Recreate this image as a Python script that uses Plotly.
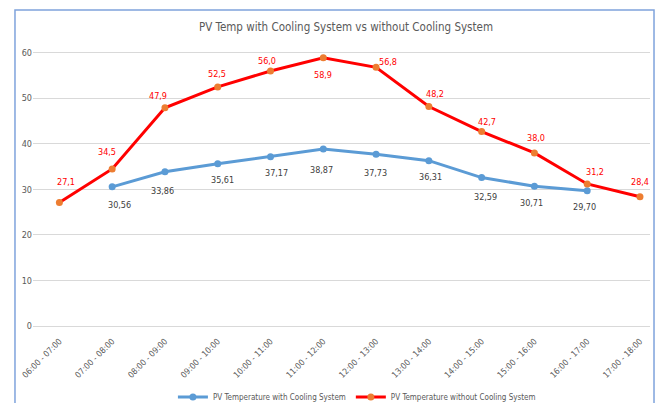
import plotly.graph_objects as go

categories = ["06:00 - 07:00", "07:00 - 08:00", "08:00 - 09:00", "09:00 - 10:00",
              "10:00 - 11:00", "11:00 - 12:00", "12:00 - 13:00", "13:00 - 14:00",
              "14:00 - 15:00", "15:00 - 16:00", "16:00 - 17:00", "17:00 - 18:00"]
with_cooling = [None, 30.56, 33.86, 35.61, 37.17, 38.87, 37.73, 36.31, 32.59, 30.71, 29.70, None]
without_cooling = [27.1, 34.5, 47.9, 52.5, 56.0, 58.9, 56.8, 48.2, 42.7, 38.0, 31.2, 28.4]

# label offsets in pixels (style only)
blue_label_shift = [None, (7, -18), (-2, -19), (5, -16), (6, -16), (-2, -21),
                    (-1, -19), (2, -16), (4, -19), (-3, -17), (-3, -16), None]
red_label_shift = [(7, 21), (-5, 17), (-7, 12), (-1, 13), (-4, 10), (0, -17),
                   (12, 5), (6, 13), (5, 10), (2, 15), (8, 12), (0, 15)]

FONT = "DejaVu Sans Condensed, Roboto Condensed, Liberation Sans Narrow, sans-serif"
BLUE = "#5B9BD5"
RED = "#FF0000"
ORANGE = "#ED7D31"

xs = list(range(len(categories)))
fig = go.Figure()
fig.add_trace(go.Scatter(x=xs, y=with_cooling, mode="lines+markers",
                         name="PV Temperature with Cooling System",
                         line=dict(color=BLUE, width=3),
                         marker=dict(color=BLUE, size=7, symbol="circle"),
                         cliponaxis=False))
fig.add_trace(go.Scatter(x=xs, y=without_cooling, mode="lines+markers",
                         name="PV Temperature without Cooling System",
                         line=dict(color=RED, width=3),
                         marker=dict(color=ORANGE, size=7, symbol="circle"),
                         cliponaxis=False))

annotations = []
for x, v, s in zip(xs, with_cooling, blue_label_shift):
    if v is None:
        continue
    annotations.append(dict(x=x, y=v, xref="x", yref="y", text=f"{v:.2f}".replace(".", ","),
                            showarrow=False, xshift=s[0], yshift=s[1],
                            font=dict(color="#404040", size=9, family=FONT)))
for x, v, s in zip(xs, without_cooling, red_label_shift):
    annotations.append(dict(x=x, y=v, xref="x", yref="y", text=f"{v:.1f}".replace(".", ","),
                            showarrow=False, xshift=s[0], yshift=s[1],
                            font=dict(color=RED, size=9, family=FONT)))

fig.update_layout(
    width=659, height=403,
    margin=dict(l=33, r=9, t=30, b=77),
    paper_bgcolor="white", plot_bgcolor="white",
    font=dict(family=FONT, color="#595959"),
    title=dict(text="PV Temp with Cooling System vs without Cooling System",
               x=0.525, xanchor="center", y=0.933, yanchor="middle",
               font=dict(size=11.5, color="#595959", family=FONT)),
    xaxis=dict(range=[-0.5, 11.19], tickmode="array", tickvals=xs, ticktext=categories,
               tickangle=-45, tickfont=dict(size=8.5, color="#595959"),
               showgrid=False, zeroline=False, showline=True, linecolor="#D9D9D9",
               automargin=False, ticklabelstandoff=6),
    yaxis=dict(range=[0, 65], tickvals=[0, 10, 20, 30, 40, 50, 60], showgrid=True,
               gridcolor="#D9D9D9", gridwidth=1, zeroline=False, automargin=False,
               tickfont=dict(size=9, color="#595959")),
    legend=dict(orientation="h", x=0.525, xanchor="center", yref="container",
                y=0.015, yanchor="middle",
                font=dict(size=8, color="#595959"), itemwidth=30),
    showlegend=True,
    annotations=annotations,
    shapes=[dict(type="rect", xref="paper", yref="paper",
                 x0=-0.0292, x1=1.0065, y0=-0.3, y1=1.0676,
                 line=dict(color="#7FA3DC", width=1.5), fillcolor="rgba(0,0,0,0)")],
)

fig.write_html("out.html", config={"displayModeBar": False},
               post_script="document.body.style.margin='0';document.body.style.overflow='hidden';")
